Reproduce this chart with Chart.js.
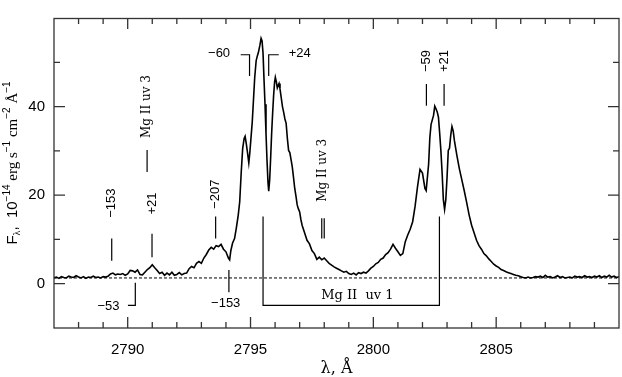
<!DOCTYPE html>
<html><head><meta charset="utf-8">
<script src="https://cdn.jsdelivr.net/npm/chart.js@4.4.0/dist/chart.umd.min.js"></script>
<style>html,body{margin:0;padding:0;background:#fff;}#wrap{width:622px;height:377px;}</style>
</head><body><div id="wrap"><canvas id="c" width="622" height="377"></canvas></div>
<script>
// ---- data ----
const wavelength = [
2787.0,2787.1,2787.2,2787.3,2787.4,2787.5,2787.6,2787.7,2787.8,2787.9,
2788.0,2788.1,2788.2,2788.3,2788.4,2788.5,2788.6,2788.7,2788.8,2788.9,
2789.0,2789.1,2789.2,2789.3,2789.4,2789.5,2789.6,2789.7,2789.8,2789.9,
2790.0,2790.1,2790.2,2790.3,2790.4,2790.5,2790.6,2790.7,2790.8,2790.9,
2791.0,2791.1,2791.2,2791.3,2791.4,2791.5,2791.6,2791.7,2791.8,2791.9,
2792.0,2792.1,2792.2,2792.3,2792.4,2792.5,2792.6,2792.7,2792.8,2792.9,
2793.0,2793.1,2793.2,2793.3,2793.4,2793.5,2793.6,2793.7,2793.8,2793.9,
2794.0,2794.1,2794.15,2794.2,2794.27,2794.35,2794.42,2794.5,2794.56,2794.62,
2794.68,2794.74,2794.78,2794.83,2794.88,2794.93,2794.97,2795.02,2795.07,2795.12,
2795.17,2795.23,2795.28,2795.32,2795.38,2795.43,2795.47,2795.51,2795.55,2795.59,
2795.63,2795.67,2795.71,2795.74,2795.78,2795.82,2795.86,2795.9,2795.94,2795.98,
2796.01,2796.05,2796.09,2796.13,2796.16,2796.2,2796.25,2796.3,2796.35,2796.4,
2796.45,2796.5,2796.55,2796.6,2796.65,2796.7,2796.75,2796.8,2796.85,2796.9,
2796.95,2797.0,2797.05,2797.1,2797.2,2797.3,2797.4,2797.5,2797.6,2797.7,
2797.8,2797.9,2798.0,2798.1,2798.2,2798.3,2798.4,2798.5,2798.6,2798.7,
2798.8,2798.9,2799.0,2799.1,2799.2,2799.3,2799.4,2799.5,2799.6,2799.7,
2799.8,2799.9,2800.0,2800.1,2800.2,2800.3,2800.4,2800.5,2800.6,2800.7,
2800.8,2800.9,2801.0,2801.1,2801.2,2801.3,2801.4,2801.5,2801.6,2801.7,
2801.8,2801.9,2802.0,2802.1,2802.15,2802.25,2802.3,2802.35,2802.4,2802.45,
2802.5,2802.55,2802.6,2802.65,2802.7,2802.75,2802.8,2802.85,2802.9,2802.95,
2803.0,2803.05,2803.1,2803.15,2803.2,2803.25,2803.3,2803.4,2803.5,2803.6,
2803.7,2803.8,2803.9,2804.0,2804.1,2804.2,2804.3,2804.4,2804.5,2804.6,
2804.7,2804.8,2804.9,2805.0,2805.1,2805.2,2805.3,2805.4,2805.5,2805.6,
2805.7,2805.8,2805.9,2806.0,2806.1,2806.2,2806.3,2806.4,2806.5,2806.6,
2806.7,2806.8,2806.9,2807.0,2807.1,2807.2,2807.3,2807.4,2807.5,2807.6,
2807.7,2807.8,2807.9,2808.0,2808.1,2808.2,2808.3,2808.4,2808.5,2808.6,
2808.7,2808.8,2808.9,2809.0,2809.1,2809.2,2809.3,2809.4,2809.5,2809.6,
2809.7,2809.8,2809.9,2810.0
];
const flux = [
1.3,1.5,1.2,1.6,1.4,1.3,1.7,1.5,1.4,1.8,
1.5,1.3,1.6,1.2,1.5,1.4,1.7,1.4,1.5,1.3,
1.6,1.5,1.7,2.2,2.4,2.0,2.2,2.1,2.3,1.9,
2.2,3.0,2.9,2.6,3.1,2.1,2.0,2.6,3.2,3.6,
4.3,3.6,3.0,2.3,2.6,1.9,2.4,2.0,2.6,1.9,
2.1,2.5,2.0,2.3,2.4,3.4,3.9,3.6,4.6,5.0,
4.6,5.8,6.6,7.6,8.2,7.8,8.6,8.4,8.9,7.8,
7.2,5.8,5.4,7.5,9.2,10.2,12.5,15.5,18.5,25.0,
30.5,32.8,33.3,31.5,29.5,27.3,29.5,33.0,36.5,41.5,
46.5,50.4,51.5,52.2,53.8,55.4,54.8,52.0,46.0,40.5,
34.0,28.0,23.0,20.9,23.5,28.5,34.0,38.5,42.5,45.5,
46.6,45.6,44.2,44.8,45.2,44.0,42.0,40.0,38.7,37.2,
36.2,32.8,30.1,29.6,28.0,26.4,24.0,21.5,19.8,17.8,
16.9,16.2,14.5,13.2,11.5,9.8,9.0,7.5,6.8,5.5,
6.0,5.4,5.8,5.2,4.6,4.2,3.8,3.5,3.2,2.9,
2.6,2.8,2.3,2.1,2.4,2.0,2.5,2.3,2.6,2.4,
2.9,3.5,3.9,4.5,4.8,5.5,5.8,6.6,7.0,7.8,
8.9,8.0,7.2,6.4,6.8,9.5,11.0,12.3,14.0,17.5,
22.0,25.8,25.0,21.5,21.0,27.0,33.0,36.0,37.0,38.0,
40.1,39.5,38.8,37.6,34.0,30.0,25.0,19.0,16.8,19.0,
24.0,30.1,30.6,33.5,35.5,34.5,32.3,29.0,26.0,23.5,
21.0,18.3,15.5,13.2,11.5,9.8,8.6,7.8,6.8,6.3,
5.6,5.0,4.4,4.0,3.7,3.2,3.0,2.7,2.5,2.3,
2.1,1.9,1.8,1.6,1.4,1.3,1.5,1.3,1.4,1.6,
1.5,1.7,1.4,1.9,1.5,1.6,1.3,1.5,1.8,1.4,
1.6,1.3,1.4,1.5,1.3,1.7,1.5,1.6,1.4,1.8,
1.5,1.6,1.4,1.7,1.5,1.8,1.4,1.7,1.5,1.9,
1.5,1.7,1.4,1.6
];
const xTickValues = [2790, 2795, 2800, 2805];
const xMinorValues = [2788,2789,2791,2792,2793,2794,2796,2797,2798,2799,2801,2802,2803,2804,2806,2807,2808,2809];
const yTickValues = [0, 20, 40];
const yMinorValues = [10, 30, 50];
const continuumLevel = 1.3;

// annotation marks (data units): vertical ticks with rotated labels
const rotatedMarks = [
  {x: 2789.35, y1: 5.2, y2: 10.2, text: '\u2212153', ly: 18.2},
  {x: 2790.99, y1: 6.0, y2: 11.3, text: '+21', ly: 18.1},
  {x: 2793.58, y1: 10.2, y2: 15.2, text: '\u2212207', ly: 20.2},
  {x: 2802.16, y1: 40.2, y2: 45.1, text: '\u221259', ly: 50.3},
  {x: 2802.88, y1: 40.2, y2: 45.1, text: '+21', ly: 50.3}
];
const ionMarks = [
  {x: [2790.79], y1: 25.2, y2: 30.2, text: 'Mg II uv 3', ly: 40.0},
  {x: [2797.9, 2798.0], y1: 10.2, y2: 14.8, text: 'Mg II uv 3', ly: 25.6}
];

const plugin = {
  id: 'deco',
  beforeDatasetsDraw(chart) {
    const {ctx, chartArea: a, scales: {x, y}} = chart;
    ctx.save();
    ctx.strokeStyle = '#000'; ctx.lineWidth = 1; ctx.setLineDash([3, 2]);
    const yc = y.getPixelForValue(continuumLevel);
    ctx.beginPath(); ctx.moveTo(a.left, yc); ctx.lineTo(a.right, yc); ctx.stroke();
    ctx.restore();
  },
  afterDatasetsDraw(chart) {
    const {ctx, chartArea: a, scales: {x, y}} = chart;
    const X = v => x.getPixelForValue(v), Y = v => y.getPixelForValue(v);
    ctx.save();
    // frame
    ctx.strokeStyle = '#333'; ctx.lineWidth = 1.3;
    ctx.strokeRect(a.left, a.top + 0.5, a.right - a.left, a.bottom - a.top - 0.5);
    // ticks
    ctx.beginPath();
    const tk = (vals, len) => {
      vals.forEach(v => { const px = X(v);
        ctx.moveTo(px, a.bottom); ctx.lineTo(px, a.bottom - len);
        ctx.moveTo(px, a.top); ctx.lineTo(px, a.top + len); });
    };
    const tky = (vals, len) => {
      vals.forEach(v => { const py = Y(v);
        ctx.moveTo(a.left, py); ctx.lineTo(a.left + len, py);
        ctx.moveTo(a.right, py); ctx.lineTo(a.right - len, py); });
    };
    tk(xTickValues, 11); tk(xMinorValues, 6); tky(yTickValues, 11); tky(yMinorValues, 6);
    ctx.stroke();

    // annotations
    ctx.strokeStyle = '#000'; ctx.lineWidth = 1.2; ctx.fillStyle = '#000';
    ctx.font = '13px "Liberation Sans", Arial, sans-serif';
    ctx.textAlign = 'center'; ctx.textBaseline = 'middle';
    const rotText = (t, px, py) => { ctx.save(); ctx.translate(px, py); ctx.rotate(-Math.PI/2); ctx.fillText(t, 0, 0); ctx.restore(); };
    rotatedMarks.forEach(m => {
      ctx.beginPath(); ctx.moveTo(X(m.x), Y(m.y1)); ctx.lineTo(X(m.x), Y(m.y2)); ctx.stroke();
      rotText(m.text, X(m.x), Y(m.ly));
    });
    // -153 below
    ctx.beginPath(); ctx.moveTo(X(2794.12), Y(3.1)); ctx.lineTo(X(2794.12), Y(-1.9)); ctx.stroke();
    ctx.fillText('\u2212153', X(2793.99), Y(-4.4));
    // -53 hook
    ctx.beginPath(); ctx.moveTo(X(2790.31), Y(0.2)); ctx.lineTo(X(2790.31), Y(-4.9)); ctx.lineTo(X(2790.01), Y(-4.9)); ctx.stroke();
    ctx.fillText('\u221253', X(2789.22), Y(-5.1));
    // -60 and +24 brackets
    ctx.beginPath();
    ctx.moveTo(X(2794.6), Y(51.7)); ctx.lineTo(X(2794.96), Y(51.7)); ctx.lineTo(X(2794.96), Y(46.9));
    ctx.moveTo(X(2796.15), Y(51.7)); ctx.lineTo(X(2795.74), Y(51.7)); ctx.lineTo(X(2795.74), Y(46.9));
    ctx.stroke();
    ctx.fillText('\u221260', X(2793.72), Y(51.9));
    ctx.fillText('+24', X(2797.0), Y(51.9));
    // Mg II marks
    ctx.font = '12px "DejaVu Serif", "Liberation Serif", serif';
    ionMarks.forEach(m => {
      ctx.beginPath();
      m.x.forEach(v => { ctx.moveTo(X(v), Y(m.y1)); ctx.lineTo(X(v), Y(m.y2)); });
      ctx.stroke();
      const cx = m.x.reduce((s, v) => s + v, 0) / m.x.length;
      rotText(m.text, X(cx), Y(m.ly));
    });
    // Mg II uv 1 bracket
    ctx.beginPath();
    ctx.moveTo(X(2795.51), Y(15.2)); ctx.lineTo(X(2795.51), Y(-4.9)); ctx.lineTo(X(2802.69), Y(-4.9)); ctx.lineTo(X(2802.69), Y(15.2));
    ctx.stroke();
    ctx.font = '13px "DejaVu Serif", "Liberation Serif", serif';
    ctx.fillText('Mg II  uv 1', X(2799.35), Y(-2.8));

    // axis titles
    ctx.font = '16px "DejaVu Serif", "Liberation Serif", serif';
    ctx.fillText('\u03bb, \u00c5', (a.left + a.right) / 2, 369);
    const segs = [
      {t: 'F', f: '15px "Liberation Sans", sans-serif', d: 0},
      {t: '\u03bb', f: '10px "Liberation Serif", serif', d: 4},
      {t: ',  10', f: '15px "Liberation Sans", sans-serif', d: 0},
      {t: '\u221214', f: '10px "Liberation Sans", sans-serif', d: -6},
      {t: ' erg s', f: '15px "Liberation Serif", serif', d: 0},
      {t: '\u22121', f: '10px "Liberation Sans", sans-serif', d: -6},
      {t: ' cm', f: '15px "Liberation Serif", serif', d: 0},
      {t: '\u22122', f: '10px "Liberation Sans", sans-serif', d: -6},
      {t: ' \u00c5', f: '15px "Liberation Serif", serif', d: 0},
      {t: '\u22121', f: '10px "Liberation Sans", sans-serif', d: -6}
    ];
    let total = 0;
    segs.forEach(s => { ctx.font = s.f; s.w = ctx.measureText(s.t).width; total += s.w; });
    ctx.save(); ctx.translate(13, 163); ctx.rotate(-Math.PI/2);
    ctx.textAlign = 'left'; ctx.textBaseline = 'middle';
    let cx = -total / 2;
    segs.forEach(s => { ctx.font = s.f; ctx.fillText(s.t, cx, s.d); cx += s.w; });
    ctx.restore();
    ctx.restore();
  }
};

new Chart(document.getElementById('c'), {
  type: 'line',
  data: { datasets: [{
    data: wavelength.map((w, i) => ({x: w, y: flux[i]})),
    borderColor: '#000', borderWidth: 1.6, pointRadius: 0, tension: 0, fill: false
  }]},
  options: {
    responsive: false, animation: false, devicePixelRatio: 1,
    layout: { padding: { top: 0, right: 3, left: 0, bottom: 0 } },
    plugins: { legend: { display: false }, tooltip: { enabled: false } },
    scales: {
      x: { type: 'linear', min: 2787, max: 2810,
        afterBuildTicks: s => { s.ticks = xTickValues.map(v => ({value: v})); },
        afterFit: s => { s.height = 49; },
        grid: { display: false, drawTicks: false }, border: { display: false },
        ticks: { color: '#000', padding: 13, maxRotation: 0, autoSkip: false,
          font: { family: '"Liberation Sans", Arial, sans-serif', size: 15 },
          callback: v => String(v) } },
      y: { type: 'linear', min: -10, max: 60,
        afterBuildTicks: s => { s.ticks = yTickValues.map(v => ({value: v})); },
        afterFit: s => { s.width = 54; },
        grid: { display: false, drawTicks: false }, border: { display: false },
        ticks: { color: '#000', padding: 9,
          font: { family: '"Liberation Sans", Arial, sans-serif', size: 15 },
          callback: v => String(v) } }
    }
  },
  plugins: [plugin]
});
</script></body></html>
